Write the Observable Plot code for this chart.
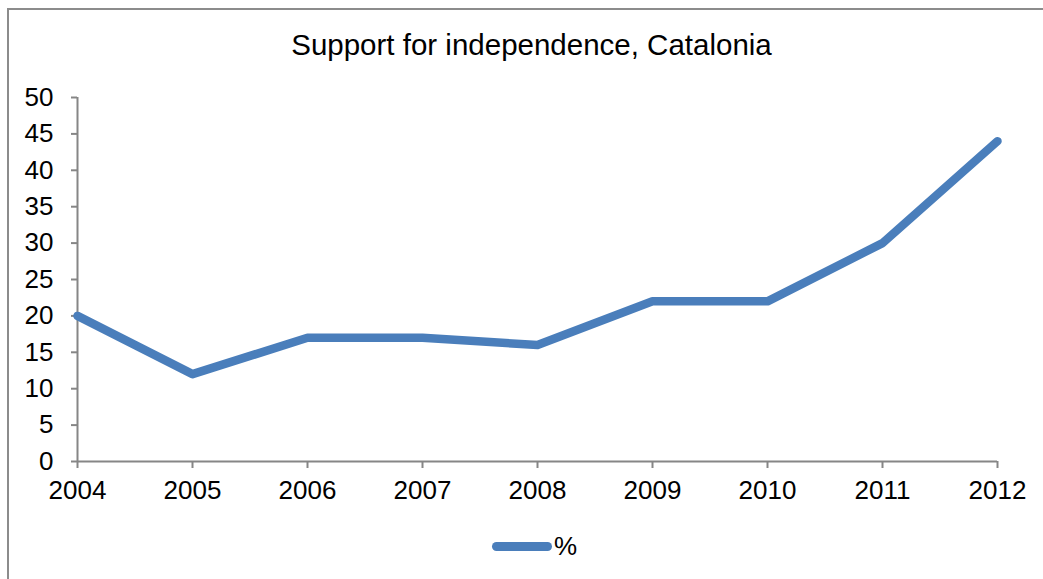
<!DOCTYPE html>
<html>
<head>
<meta charset="utf-8">
<script src="https://cdn.jsdelivr.net/npm/d3@7"></script>
<script src="https://cdn.jsdelivr.net/npm/@observablehq/plot@0.6"></script>
<style>
  html, body { margin: 0; padding: 0; background: #fff; }
  body { font-family: "Liberation Sans", Arial, sans-serif; }
  #wrap { position: relative; width: 1043px; height: 579px; overflow: hidden; background: #fff; }
  #frame { position: absolute; left: 7px; top: 8px; width: 1100px; height: 700px; border: 2px solid #8c8c8c; box-sizing: border-box; }
  #title { position: absolute; left: 0; width: 1063px; top: 27px; text-align: center; font-size: 29.5px; color: #000; line-height: 36px; }
  #chart { position: absolute; left: 0; top: 0; }
  #legend { position: absolute; left: 492px; top: 528px; height: 36px; display: flex; align-items: center; font-size: 26px; color: #000; }
  #legend .sw { width: 60px; height: 9px; border-radius: 5px; background: #4A7EBB; margin-right: 2px; }
</style>
</head>
<body>
<div id="wrap">
  <div id="frame"></div>
  <div id="chart"></div>
  <div id="title">Support for independence, Catalonia</div>
  <div id="legend"><span class="sw"></span><span id="legendLabel"></span></div>
</div>
<script>
const years = [2004, 2005, 2006, 2007, 2008, 2009, 2010, 2011, 2012];
const support = [20, 12, 17, 17, 16, 22, 22, 30, 44];
const yTicks = [0, 5, 10, 15, 20, 25, 30, 35, 40, 45, 50];
const seriesName = "%";

const data = years.map((year, i) => ({year, value: support[i]}));
document.getElementById("legendLabel").textContent = seriesName;

const axisColor = "#868686";
const chart = Plot.plot({
  width: 1043,
  height: 579,
  marginLeft: 77,
  marginRight: 46,
  marginTop: 97,
  marginBottom: 118,
  style: {fontFamily: "'Liberation Sans', Arial, sans-serif", fontSize: "26px", color: "#000", background: "transparent", overflow: "visible"},
  x: {type: "linear", domain: [years[0], years[years.length - 1]]},
  y: {domain: [0, 50]},
  marks: [
    Plot.axisY({ticks: yTicks, tickSize: 6, tickPadding: 18, stroke: axisColor, strokeWidth: 2, fontSize: 26, label: null}),
    Plot.axisX({ticks: years, tickFormat: d => String(d), tickSize: 7, tickPadding: 12, stroke: axisColor, strokeWidth: 2, fontSize: 26, label: null}),
    Plot.ruleX([years[0]], {stroke: axisColor, strokeWidth: 2}),
    Plot.ruleY([0], {stroke: axisColor, strokeWidth: 2}),
    Plot.line(data, {x: "year", y: "value", stroke: "#4A7EBB", strokeWidth: 8.5, strokeLinejoin: "round", strokeLinecap: "round"})
  ]
});
document.getElementById("chart").appendChild(chart);
</script>
</body>
</html>
